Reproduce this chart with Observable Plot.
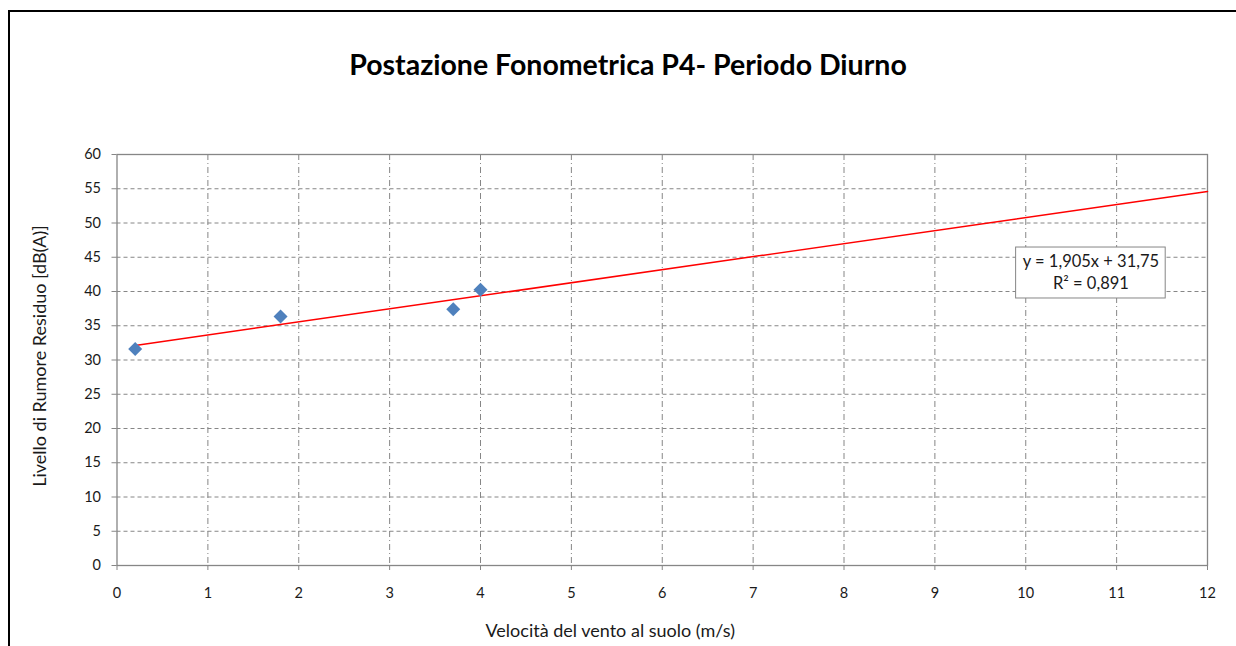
<!DOCTYPE html>
<html>
<head>
<meta charset="utf-8">
<script src="https://cdn.jsdelivr.net/npm/d3@7"></script>
<script src="https://cdn.jsdelivr.net/npm/@observablehq/plot@0.6"></script>
<style>
  html, body { margin: 0; padding: 0; background: #fff; }
  #wrap { position: relative; width: 1236px; height: 646px; overflow: hidden; font-family: Lato, "Open Sans", sans-serif; }
  #border { position: absolute; left: 8px; top: 10px; width: 1300px; height: 700px; border-left: 2px solid #000; border-top: 2px solid #000; box-sizing: border-box; }
  #title { position: absolute; left: 0; top: 47px; width: 1256px; text-align: center; font-weight: bold; font-size: 28.5px; line-height: 34px; color: #000; }
  #chart { position: absolute; left: 0; top: 110px; }
</style>
</head>
<body>
<div id="wrap">
  <div id="border"></div>
  <div id="title">Postazione Fonometrica P4- Periodo Diurno</div>
  <div id="chart"></div>
</div>
<script>
// Data
const windSpeed = [0.2, 1.8, 3.7, 4.0];
const noiseLevel = [31.6, 36.35, 37.4, 40.25];
const trendX = [0.2, 12];
const trendY = [32.13, 54.61];
const xTicks = [0, 1, 2, 3, 4, 5, 6, 7, 8, 9, 10, 11, 12];
const yTicks = [0, 5, 10, 15, 20, 25, 30, 35, 40, 45, 50, 55, 60];
const equationLines = ["y = 1,905x + 31,75", "R² = 0,891"];
const xLabel = "Velocità del vento al suolo (m/s)";
const yLabel = "Livello di Rumore Residuo [dB(A)]";
// Equation box placement (data units)
const boxX = [9.894, 11.54];
const boxY = [38.98, 46.42];

const points = windSpeed.map((x, i) => ({x, y: noiseLevel[i]}));
const trend = trendX.map((x, i) => ({x, y: trendY[i]}));
const gridX = xTicks.slice(1, -1);
const gridY = yTicks.slice(1, -1);
const boxCx = (boxX[0] + boxX[1]) / 2;
const boxCy = (boxY[0] + boxY[1]) / 2;

const grey = "#868686";
const ink = "#1a1a1a";
const font = "Lato, 'Open Sans', sans-serif";

const plot = Plot.plot({
  width: 1236,
  height: 536,
  marginLeft: 116.5,
  marginRight: 29,
  marginTop: 44,
  marginBottom: 81,
  style: {fontFamily: font, fontSize: "14.5px", background: "transparent", overflow: "visible"},
  x: {domain: [0, 12], label: null},
  y: {domain: [0, 60], label: null},
  marks: [
    Plot.ruleY(gridY, {stroke: grey, strokeWidth: 1, strokeDasharray: "4,3"}),
    Plot.ruleX(gridX, {stroke: grey, strokeWidth: 1, strokeDasharray: "6,3,1,3"}),
    Plot.frame({stroke: grey, strokeWidth: 1.3}),
    Plot.axisY(yTicks, {tickSize: 5, tickPadding: 11, stroke: grey, fill: ink, label: null, fontSize: 14.5}),
    Plot.axisX(xTicks, {tickSize: 5, tickPadding: 17, stroke: grey, fill: ink, label: null, fontSize: 14.5}),
    Plot.line(trend, {x: "x", y: "y", stroke: "#ff0000", strokeWidth: 1.5}),
    Plot.dot(points, {x: "x", y: "y", symbol: "diamond2", r: 6.3, fill: "#4f81bd", stroke: "none"}),
    Plot.rect([0], {x1: boxX[0], x2: boxX[1], y1: boxY[0], y2: boxY[1], fill: "#fff", stroke: grey, strokeWidth: 1}),
    Plot.text([equationLines[0]], {x: boxCx, y: boxCy, dy: -11, fontSize: 16.5, fill: ink}),
    Plot.text([equationLines[1]], {x: boxCx, y: boxCy, dy: 11, fontSize: 16.5, fill: ink}),
    Plot.text([xLabel], {frameAnchor: "bottom", dx: -52, dy: 71, fontSize: 18, fill: ink}),
    Plot.text([yLabel], {frameAnchor: "left", textAnchor: "middle", dx: -76.5, dy: -4, rotate: -90, fontSize: 18, fill: ink})
  ]
});
document.getElementById("chart").appendChild(plot);
</script>
</body>
</html>
